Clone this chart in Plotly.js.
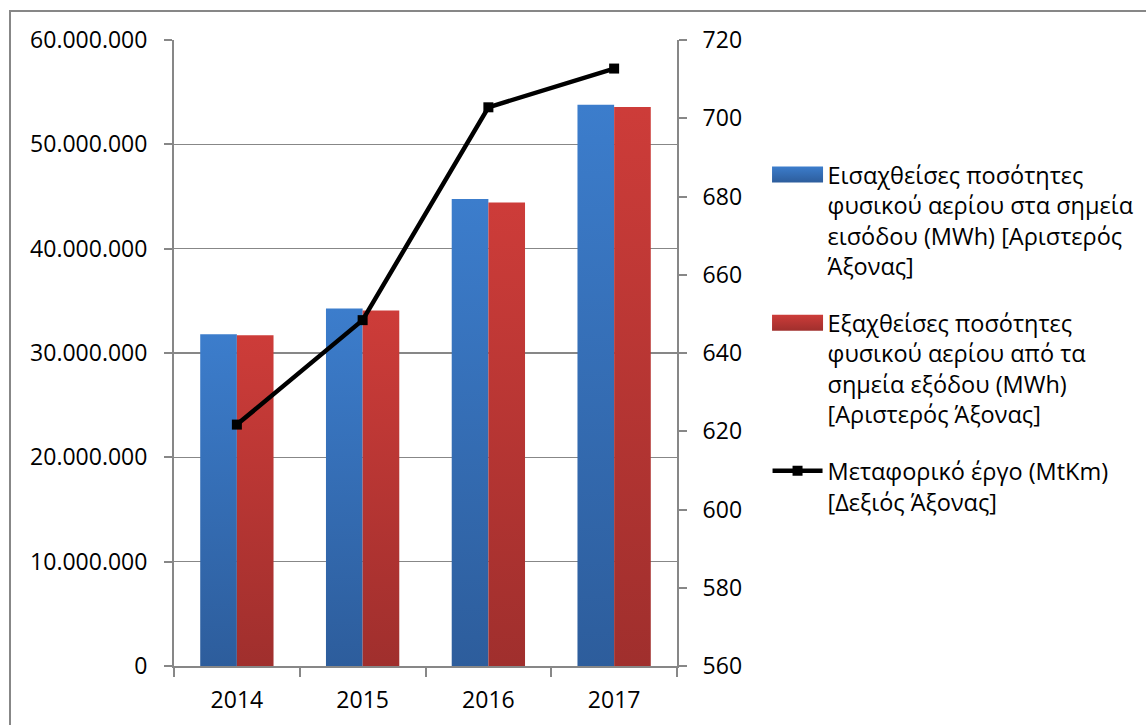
<!DOCTYPE html>
<html>
<head>
<meta charset="utf-8">
<script src="https://cdn.plot.ly/plotly-3.0.1.min.js"></script>
<style>
  html, body { margin: 0; padding: 0; background: #ffffff; }
  #chart { position: absolute; left: 0; top: 0; width: 1146px; height: 725px; }
  #frame { position: absolute; left: 9px; top: 10px; width: 1300px; height: 900px;
           border-left: 2px solid #878787; border-top: 2px solid #878787; pointer-events: none; }
</style>
</head>
<body>
<div id="chart"></div>
<div id="frame"></div>
<script>
// Data
const years = ['2014', '2015', '2016', '2017'];
const injectedMWh = [31800000, 34270000, 44750000, 53790000];   // blue, left axis
const withdrawnMWh = [31700000, 34070000, 44430000, 53570000];  // red, left axis
const transportMtKm = [621.7, 648.4, 702.8, 712.7];             // black line, right axis

const nameInjected = 'Εισαχθείσες ποσότητες<br>φυσικού αερίου στα σημεία<br>εισόδου (MWh) [Αριστερός<br>Άξονας]';
const nameWithdrawn = 'Εξαχθείσες ποσότητες<br>φυσικού αερίου από τα<br>σημεία εξόδου (MWh)<br>[Αριστερός Άξονας]';
const nameTransport = 'Μεταφορικό έργο (MtKm)<br>[Δεξιός Άξονας]';

const gray = '#878787';
const font = 'Open Sans, Noto Sans, sans-serif';

const traces = [
  {
    type: 'bar', x: years, y: injectedMWh, name: nameInjected, legendgroup: 'a',
    marker: { color: '#3771BA' }, yaxis: 'y', hoverinfo: 'x+y'
  },
  {
    type: 'bar', x: years, y: withdrawnMWh, name: nameWithdrawn, legendgroup: 'b',
    marker: { color: '#C03936' }, yaxis: 'y', hoverinfo: 'x+y'
  },
  {
    type: 'scatter', mode: 'lines+markers', x: years, y: transportMtKm, name: nameTransport,
    legendgroup: 'c', yaxis: 'y2',
    line: { color: '#000000', width: 4.5 },
    marker: { symbol: 'square', size: 10, color: '#000000' }
  }
];

const layout = {
  width: 1146, height: 725,
  margin: { l: 174, r: 469.3, t: 40, b: 59.3, pad: 0, autoexpand: false },
  paper_bgcolor: 'rgba(0,0,0,0)',
  plot_bgcolor: 'rgba(0,0,0,0)',
  separators: ',.',
  font: { family: font, size: 23, color: '#000000' },
  barmode: 'group',
  bargap: 0.417,
  bargroupgap: 0,
  showlegend: true,
  legend: {
    x: 1.18, xanchor: 'left', y: 0.82, yanchor: 'top',
    font: { family: font, size: 23.5, color: '#000000' },
    bgcolor: 'rgba(0,0,0,0)', borderwidth: 0,
    valign: 'top', itemwidth: 50, tracegroupgap: 23,
    traceorder: 'grouped'
  },
  xaxis: {
    type: 'category', showline: true, linecolor: gray, linewidth: 2,
    ticks: 'outside', tickson: 'boundaries', ticklen: 9, tickcolor: gray, tickwidth: 2,
    showgrid: false, zeroline: false, ticklabelstandoff: 12,
    tickfont: { family: font, size: 23, color: '#000000' }
  },
  yaxis: {
    range: [0, 60000000], dtick: 10000000, tickformat: ',d',
    showline: true, linecolor: gray, linewidth: 2,
    ticks: 'outside', ticklen: 8, tickcolor: gray, tickwidth: 2,
    showgrid: true, gridcolor: gray, gridwidth: 1.6, zeroline: false,
    ticklabelstandoff: 12,
    tickfont: { family: font, size: 23, color: '#000000' }
  },
  yaxis2: {
    overlaying: 'y', side: 'right', range: [560, 720], dtick: 20,
    showline: true, linecolor: gray, linewidth: 2,
    ticks: 'outside', ticklen: 8, tickcolor: gray, tickwidth: 2,
    showgrid: false, zeroline: false, ticklabelstandoff: 11,
    tickfont: { family: font, size: 23, color: '#000000' }
  }
};

// Vertical gradients similar to the reference's bar fill
const gradients = [
  { id: 'gradBlue', top: '#3C7DCC', bottom: '#2D5D9C' },
  { id: 'gradRed', top: '#CD3C39', bottom: '#A02F2D' }
];

function addGradients(gd) {
  const svgNS = 'http://www.w3.org/2000/svg';
  const svg = gd.querySelector('svg.main-svg');
  let defs = svg.querySelector('defs');
  if (!defs) { defs = document.createElementNS(svgNS, 'defs'); svg.insertBefore(defs, svg.firstChild); }
  gradients.forEach(g => {
    const lg = document.createElementNS(svgNS, 'linearGradient');
    lg.setAttribute('id', g.id);
    lg.setAttribute('x1', '0'); lg.setAttribute('y1', '0');
    lg.setAttribute('x2', '0'); lg.setAttribute('y2', '1');
    [[0, g.top], [1, g.bottom]].forEach(([o, c]) => {
      const s = document.createElementNS(svgNS, 'stop');
      s.setAttribute('offset', o); s.setAttribute('stop-color', c);
      lg.appendChild(s);
    });
    defs.appendChild(lg);
  });
  // bars
  gd.querySelectorAll('.barlayer .trace.bars').forEach((t, i) => {
    t.querySelectorAll('path').forEach(p => { p.style.fill = 'url(#' + gradients[i].id + ')'; });
  });
  // legend symbols for the bar series: wide flat rectangles
  gd.querySelectorAll('.legend .traces').forEach((t, i) => {
    if (i < 2) {
      t.querySelectorAll('.legendpoints path').forEach(p => {
        p.setAttribute('d', 'M25.5,8H-25.5V-8H25.5Z');
        p.style.fill = 'url(#' + gradients[i].id + ')';
        p.style.stroke = 'none';
      });
    }
  });
}

Plotly.newPlot('chart', traces, layout, { displayModeBar: false, staticPlot: true })
  .then(addGradients);
</script>
</body>
</html>
